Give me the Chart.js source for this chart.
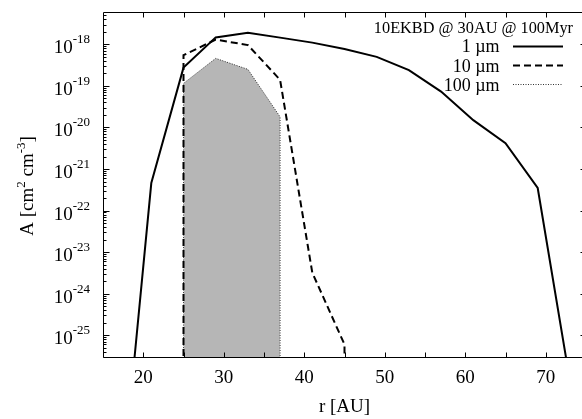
<!DOCTYPE html>
<html><head><meta charset="utf-8">
<script src="https://cdn.jsdelivr.net/npm/chart.js@4/dist/chart.umd.min.js"></script>
<style>html,body{margin:0;padding:0;overflow:hidden;background:#fff;width:582px;height:419px}canvas{display:block}</style>
</head><body><canvas id="c" width="592" height="419"></canvas>
<script>
// ---- data ----
const r1   = [17, 21, 25, 29, 33, 37, 41, 45, 49, 53, 57, 61, 65, 69, 73];
const a1   = [4e-30, 4.6e-22, 2.75e-19, 1.47e-18, 1.9e-18, 1.45e-18, 1.1e-18, 7.7e-19, 5e-19, 2.4e-19, 7.3e-20, 1.5e-20, 4.2e-21, 3.5e-22, 8e-27];
const r10  = [25, 25, 29, 33, 37, 41, 45, 45];
const a10  = [1e-30, 5.5e-19, 1.3e-18, 9.6e-19, 1.4e-19, 3.2e-24, 6e-26, 1e-30];
const r100 = [25, 25, 29, 33, 37, 37];
const a100 = [1e-30, 1.15e-19, 4.6e-19, 2.5e-19, 1.8e-20, 1e-30];
const seriesLabels = ['1 µm', '10 µm', '100 µm'];
const legendTitle = '10EKBD @ 30AU @ 100Myr';
const xTickLabels = [20, 30, 40, 50, 60, 70];
const xTickMarks  = [20, 25, 30, 35, 40, 45, 50, 55, 60, 65, 70];
const yTickExps   = [-25, -24, -23, -22, -21, -20, -19, -18];
const xTitle = 'r [AU]';
const yTitleParts = [['A [cm', 0], ['2', 1], [' cm', 0], ['-3', 1], [']', 0]];

const FONT = '"Liberation Serif", "DejaVu Serif", serif';
const F_TICK = '19px ' + FONT;
const F_SUP = '13px ' + FONT;
const F_AXT = '19px ' + FONT;
const F_LEG = '18px ' + FONT;
const F_LEGT = '16.3px ' + FONT;

const toPts = (xs, ys) => xs.map((x, i) => ({x: x, y: ys[i]}));

const decor = {
  id: 'decor',
  afterDraw(chart) {
    const ctx = chart.ctx, ca = chart.chartArea, xs = chart.scales.x, ys = chart.scales.y;
    const L = Math.round(ca.left) + 0.5, R = Math.round(ca.right) + 0.5;
    const T = Math.round(ca.top) + 0.5, B = Math.round(ca.bottom) + 0.5;
    ctx.save();
    ctx.strokeStyle = '#000'; ctx.lineWidth = 1; ctx.setLineDash([]);
    ctx.beginPath();
    ctx.moveTo(L, T); ctx.lineTo(R, T); ctx.lineTo(R, B); ctx.lineTo(L, B); ctx.closePath();
    ctx.stroke();
    // x ticks
    ctx.beginPath();
    xTickMarks.forEach(v => {
      const p = Math.round(xs.getPixelForValue(v)) + 0.5;
      ctx.moveTo(p, B); ctx.lineTo(p, B - 5);
      ctx.moveTo(p, T); ctx.lineTo(p, T + 5);
    });
    // y ticks
    const ymin = ys.min, ymax = ys.max;
    for (let e = -26; e <= -18; e++) {
      for (let k = 1; k <= 9; k++) {
        const v = k * Math.pow(10, e);
        if (v < ymin || v > ymax) continue;
        const p = Math.round(ys.getPixelForValue(v)) + 0.5;
        const len = (k === 1) ? 6 : 3;
        ctx.moveTo(L, p); ctx.lineTo(L + len, p);
        ctx.moveTo(R, p); ctx.lineTo(R - len, p);
      }
    }
    ctx.stroke();

    ctx.fillStyle = '#000';
    ctx.textBaseline = 'alphabetic';
    // y tick labels
    yTickExps.forEach(e => {
      const p = ys.getPixelForValue(Math.pow(10, e));
      const sup = String(e);
      ctx.font = F_SUP;
      const ws = ctx.measureText(sup).width;
      ctx.textAlign = 'left';
      ctx.fillText(sup, 90 - ws, p - 1);
      ctx.font = F_TICK; ctx.textAlign = 'right';
      ctx.fillText('10', 90 - ws, p + 9);
    });
    // x tick labels
    ctx.font = F_TICK; ctx.textAlign = 'center';
    xTickLabels.forEach(v => {
      ctx.fillText(String(v), xs.getPixelForValue(v), 382.7);
    });
    // x title
    ctx.font = F_AXT;
    ctx.fillText(xTitle, (ca.left + ca.right) / 2, 411.7);
    // y title (rotated)
    ctx.save();
    ctx.translate(33, (ca.top + ca.bottom) / 2 + 1.5);
    ctx.rotate(-Math.PI / 2);
    let total = 0;
    yTitleParts.forEach(([t, s]) => { ctx.font = s ? F_SUP : F_AXT; total += ctx.measureText(t).width; });
    let x = -total / 2;
    ctx.textAlign = 'left';
    yTitleParts.forEach(([t, s]) => {
      ctx.font = s ? F_SUP : F_AXT;
      ctx.fillText(t, x, s ? -8 : 0);
      x += ctx.measureText(t).width;
    });
    ctx.restore();

    // legend
    ctx.font = F_LEGT; ctx.textAlign = 'right';
    ctx.fillText(legendTitle, 573, 33.3);
    ctx.font = F_LEG;
    chart.data.datasets.forEach((ds, i) => {
      const base = 52.3 + i * 19.2;
      ctx.fillStyle = '#000';
      ctx.fillText(ds.label, 499.5, base);
      const ly = Math.round(base - 6.5) + 0.5;
      ctx.strokeStyle = ds.borderColor; ctx.lineWidth = ds.borderWidth;
      ctx.setLineDash(ds.borderDash || []);
      ctx.beginPath(); ctx.moveTo(513, ly); ctx.lineTo(563, ly); ctx.stroke();
    });
    ctx.restore();
  }
};

new Chart(document.getElementById('c'), {
  type: 'line',
  data: {
    datasets: [
      {label: seriesLabels[0], data: toPts(r1, a1), borderColor: '#000', borderWidth: 2, pointRadius: 0, fill: false, tension: 0, clip: 0},
      {label: seriesLabels[1], data: toPts(r10, a10), borderColor: '#000', borderWidth: 2, borderDash: [7, 4], pointRadius: 0, fill: false, tension: 0, clip: 0},
      {label: seriesLabels[2], data: toPts(r100, a100), borderColor: '#333', borderWidth: 1, borderDash: [1, 1.5], pointRadius: 0, fill: 'start', backgroundColor: '#b6b6b6', tension: 0, clip: 0}
    ]
  },
  options: {
    responsive: false, animation: false, devicePixelRatio: 1,
    layout: {padding: {left: 0, top: 12, right: 6, bottom: 0}},
    plugins: {legend: {display: false}, tooltip: {enabled: false}, title: {display: false}},
    scales: {
      x: {type: 'linear', min: 15, max: 75, ticks: {display: false}, grid: {display: false}, border: {display: false},
          afterFit(s) { s.height = 62; }},
      y: {type: 'logarithmic', min: 3e-26, max: 6e-18, ticks: {display: false}, grid: {display: false}, border: {display: false},
          afterFit(s) { s.width = 103; }}
    }
  },
  plugins: [decor]
});
</script>
</body></html>
